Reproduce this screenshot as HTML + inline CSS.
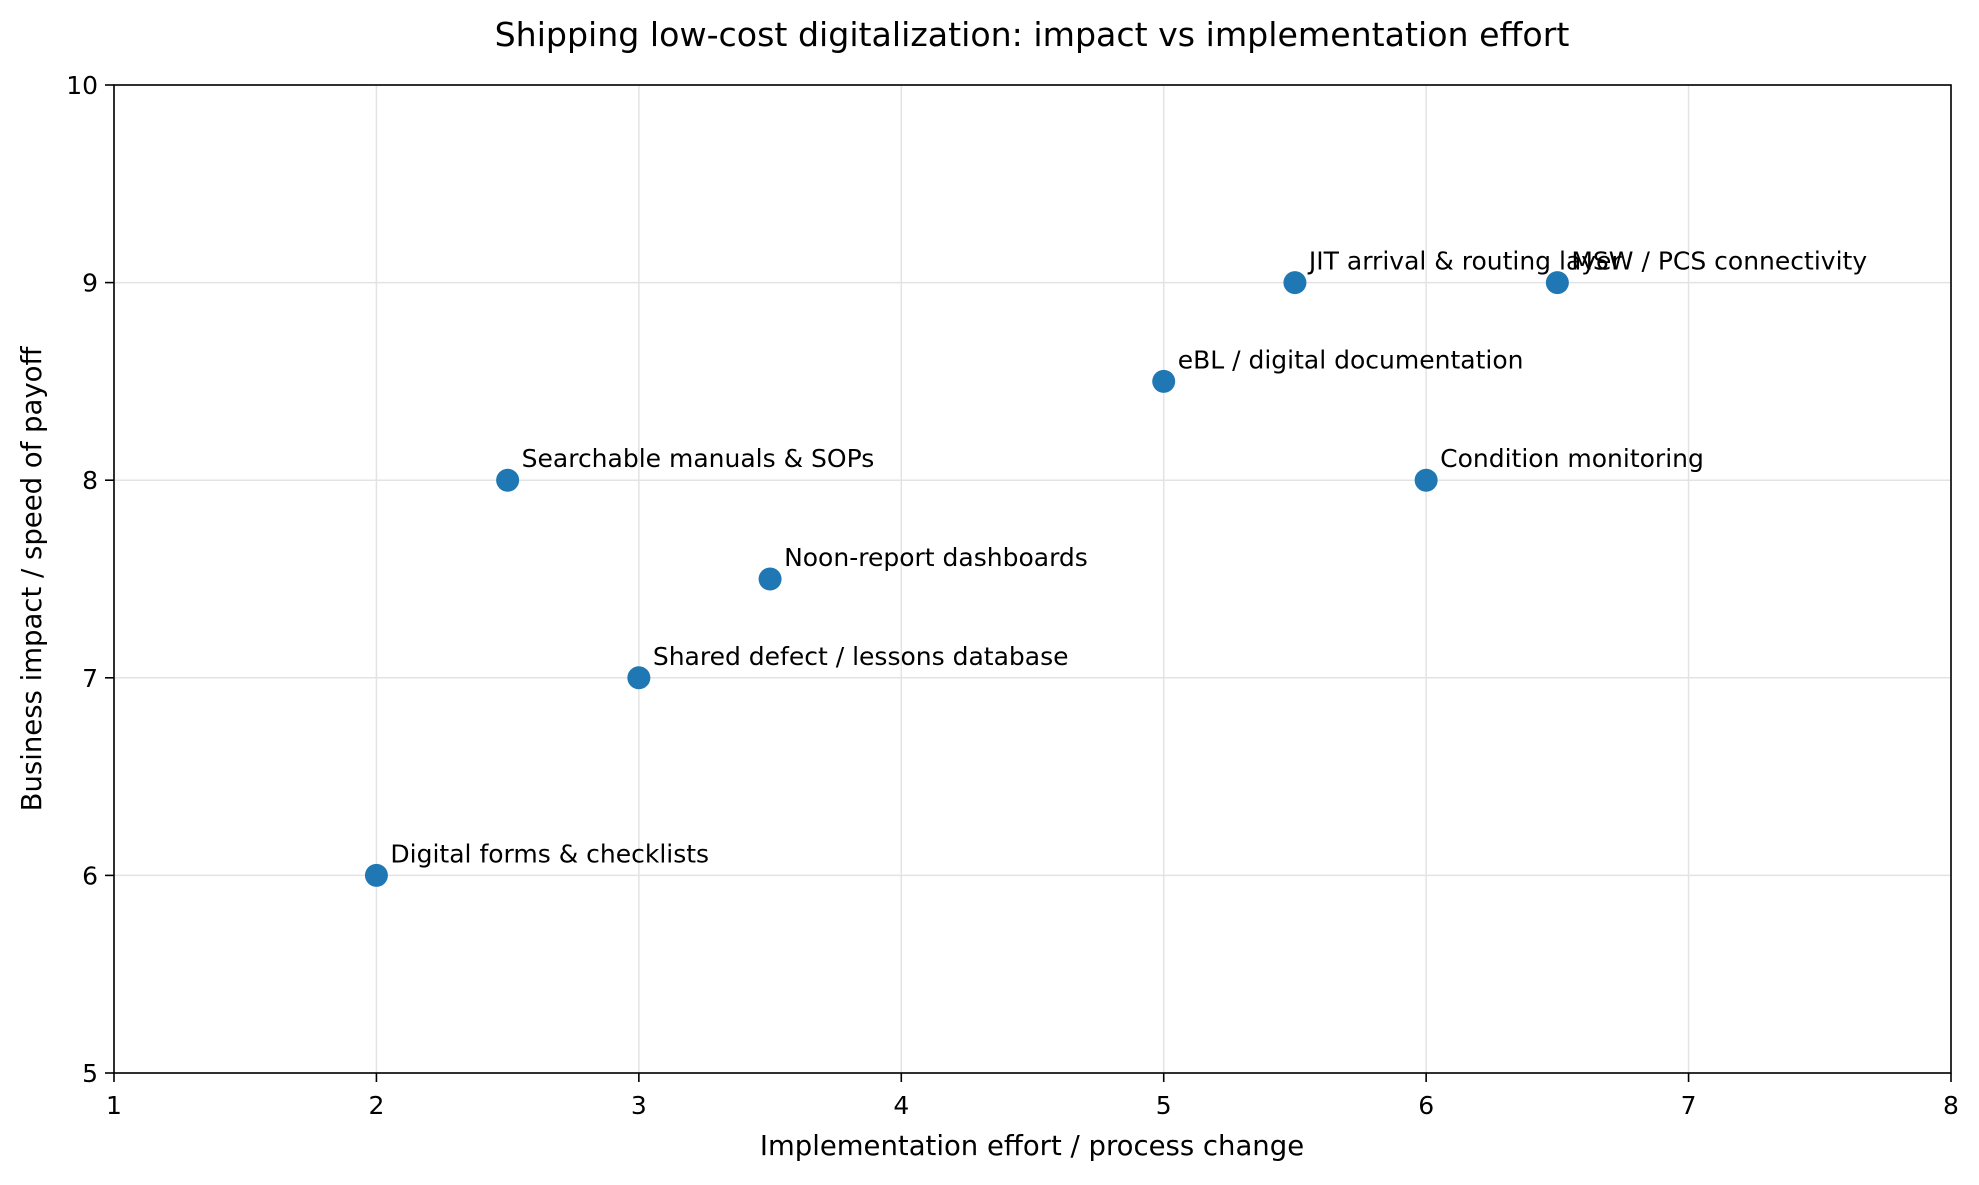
<!DOCTYPE html>
<html><head><meta charset="utf-8"><style>
body{margin:0;background:#fff;}
svg text{font-family:"DejaVu Sans","Liberation Sans",sans-serif;fill:#000;}
</style></head><body>
<svg id="chart" width="1979" height="1180" xmlns="http://www.w3.org/2000/svg">
<rect width="1979" height="1180" fill="#fff"/>
<text x="1032" y="46" font-size="33.2" text-anchor="middle">Shipping low-cost digitalization: impact vs implementation effort</text>
<g id="grid"></g>
<g id="ticks"></g>
<rect x="114" y="85" width="1837" height="988" fill="none" stroke="#000" stroke-width="1.6"/>
<g id="points"></g>
<text x="1032" y="1155" font-size="27.5" text-anchor="middle">Implementation effort / process change</text>
<text x="0" y="0" font-size="27.5" text-anchor="middle" transform="translate(41,579) rotate(-90)">Business impact / speed of payoff</text>
</svg>
<script>
const labels=["Digital forms & checklists","Searchable manuals & SOPs","Shared defect / lessons database","Noon-report dashboards","eBL / digital documentation","JIT arrival & routing layer","Condition monitoring","MSW / PCS connectivity"];
const effort=[2,2.5,3,3.5,5,5.5,6,6.5];
const impact=[6,8,7,7.5,8.5,9,8,9];
const xTicks=[1,2,3,4,5,6,7,8];
const yTicks=[5,6,7,8,9,10];
const NS="http://www.w3.org/2000/svg";
const L=114,R=1951,T=85,B=1073;
const sx=v=>L+(v-1)/(8-1)*(R-L);
const sy=v=>B-(v-5)/(10-5)*(B-T);
function mk(tag,attrs,parent){const e=document.createElementNS(NS,tag);for(const k in attrs)e.setAttribute(k,attrs[k]);parent.appendChild(e);return e;}
const grid=document.getElementById('grid'),ticks=document.getElementById('ticks'),pts=document.getElementById('points');
xTicks.forEach(v=>{
 const g=mk('line',{x1:sx(v),x2:sx(v),y1:T,y2:B,stroke:'#e3e3e3','stroke-width':1.5},grid);
 
 
 const t=mk('line',{x1:sx(v),x2:sx(v),y1:B,y2:B+9,stroke:'#000','stroke-width':1.6},ticks);
 
 
 const tx=mk('text',{x:sx(v),y:B+41,'font-size':25,'text-anchor':'middle'},ticks);
 tx.textContent=v;
 
 
});
yTicks.forEach(v=>{
 const g=mk('line',{x1:L,x2:R,y1:sy(v),y2:sy(v),stroke:'#e3e3e3','stroke-width':1.5},grid);
 
 
 const t=mk('line',{x1:L-9,x2:L,y1:sy(v),y2:sy(v),stroke:'#000','stroke-width':1.6},ticks);
 
 
 const tx=mk('text',{x:L-16,y:sy(v)+9,'font-size':25,'text-anchor':'end'},ticks);
 tx.textContent=v;
 
 
});
labels.forEach((lab,i)=>{
 const c=mk('circle',{cx:sx(effort[i]),cy:sy(impact[i]),r:11.5,fill:'#1f77b4'},pts);
 
 
 const t=mk('text',{x:sx(effort[i])+14,y:sy(impact[i])-13,'font-size':25},pts);
 t.textContent=lab;
 
 
});
</script>
</body></html>
